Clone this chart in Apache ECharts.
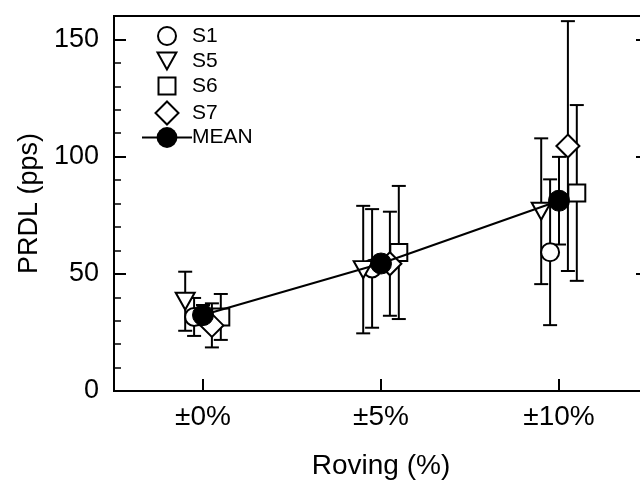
<!DOCTYPE html>
<html><head><meta charset="utf-8">
<script src="https://cdn.jsdelivr.net/npm/echarts@6/dist/echarts.min.js"></script>
<style>html,body{margin:0;padding:0;background:#fff}#c{width:640px;height:480px}</style>
</head><body><div id="c"></div>
<script>
const categories = ['±0%', '±5%', '±10%'];
const yTickValues = [0, 50, 100, 150];
const s1 = [31.6, 52.3, 59.2];
const s1Err = [8.1, 25.3, 31.1];
const s5 = [38.3, 51.8, 76.7];
const s5Err = [12.6, 27.2, 31.1];
const s6 = [31.6, 59.1, 84.5];
const s6Err = [9.8, 28.4, 37.5];
const s7 = [28.0, 54.3, 104.5];
const s7Err = [9.4, 22.2, 53.3];
const mean = [32.4, 54.4, 81.2];
const meanErr = [4.3, 3.3, 18.7];

const FONT = "'Liberation Sans', Arial, sans-serif";
const off = {S1: -0.05, S5: -0.1, S6: 0.1, S7: 0.05, MEAN: 0};
const LW = 2;
const DOWN_TRI = 'path://M0,0L20,0L10,18Z';

function pts(vals, o) { return vals.map((v, i) => [i + o, v]); }
function errs(vals, e, o) { return vals.map((v, i) => [i + o, v - e[i], v + e[i]]); }

function errRender(params, api) {
  const x = api.value(0), lo = api.value(1), hi = api.value(2);
  const a = api.coord([x, lo]), b = api.coord([x, hi]);
  const w = 7;
  const style = {stroke: '#000', lineWidth: LW, fill: null};
  return {type: 'group', children: [
    {type: 'line', shape: {x1: a[0], y1: a[1], x2: b[0], y2: b[1]}, style},
    {type: 'line', shape: {x1: a[0] - w, y1: a[1], x2: a[0] + w, y2: a[1]}, style},
    {type: 'line', shape: {x1: b[0] - w, y1: b[1], x2: b[0] + w, y2: b[1]}, style}
  ]};
}
function errSeries(name, vals, e, o) {
  return {type: 'custom', name: name + ' err', xAxisIndex: 1, yAxisIndex: 0, z: 1,
    renderItem: errRender, data: errs(vals, e, o), silent: true, clip: false};
}
const hollow = {color: '#fff', borderColor: '#000', borderWidth: LW, opacity: 1};
function scat(name, vals, o, symbol, size) {
  return {type: 'scatter', name, xAxisIndex: 1, yAxisIndex: 0, z: 2, symbol, symbolSize: size,
    itemStyle: hollow, data: pts(vals, o), silent: true};
}
const SYM_X = 166, TEXT_X = 191, LFS = 21;
function legScatter(name, cy, w, h, icon) {
  const left = SYM_X - w / 2;
  const item = {name: name};
  if (icon) item.icon = icon;
  return {
    data: [item], orient: 'vertical', left: left, top: cy - Math.max(h, LFS) / 2,
    itemWidth: w, itemHeight: h, selectedMode: false, padding: 0,
    itemStyle: {color: '#fff', borderColor: '#000', borderWidth: LW, opacity: 1},
    textStyle: {fontFamily: FONT, fontSize: LFS, color: '#000',
      padding: [0, 0, 0, TEXT_X - (left + w + 5)]}
  };
}
function legMean(name, cy, h) {
  return {
    data: [name], orient: 'vertical', left: 141, top: cy - Math.max(h, LFS) / 2,
    itemWidth: 50, itemHeight: h, selectedMode: false, padding: 0,
    textStyle: {fontFamily: FONT, fontSize: LFS, color: '#000',
      padding: [0, 0, 0, TEXT_X - (141 + 50 + 5)]}
  };
}

const chart = echarts.init(document.getElementById('c'), null, {renderer: 'canvas'});
const axisLine = {show: true, onZero: false, lineStyle: {color: '#000', width: 2}};
chart.setOption({
  animation: false,
  backgroundColor: '#fff',
  grid: {left: 114, top: 16, width: 534, height: 375, show: true, borderColor: '#000', borderWidth: 2,
         outerBoundsMode: 'none', containLabel: false},
  legend: [
    legScatter('S1', 36, 18, 18),
    legScatter('S5', 61, 19, 17, DOWN_TRI),
    legScatter('S6', 86, 17, 17),
    legScatter('S7', 112, 23, 23),
    legMean('MEAN', 140, 26)
  ],
  xAxis: [
    {type: 'category', data: categories, boundaryGap: true, position: 'bottom',
     axisLine, axisTick: {show: true, inside: true, alignWithLabel: true, length: 12, lineStyle: {color: '#000', width: 2}},
     axisLabel: {fontFamily: FONT, fontSize: 28, color: '#000', margin: 12},
     name: 'Roving (%)', nameLocation: 'middle', nameGap: 61,
     nameTextStyle: {fontFamily: FONT, fontSize: 28, color: '#000'}, splitLine: {show: false}},
    {type: 'value', min: -0.5, max: 2.5, show: false, axisLine: {onZero: false}, splitLine: {show: false}}
  ],
  yAxis: [
    {type: 'value', min: yTickValues[0], max: 160, interval: 50, position: 'left',
     axisLine, axisTick: {show: true, inside: true, length: 12, lineStyle: {color: '#000', width: 2}},
     axisLabel: {fontFamily: FONT, fontSize: 27, color: '#000', margin: 15, showMaxLabel: false,
       formatter: v => yTickValues.includes(v) ? String(v) : ''},
     splitLine: {show: false},
     name: 'PRDL (pps)', nameLocation: 'middle', nameGap: 67, nameRotate: 90,
     nameTextStyle: {fontFamily: FONT, fontSize: 27, color: '#000'}},
    {type: 'value', min: 0, max: 160, interval: 10, position: 'left',
     axisLine: {show: false, onZero: false}, axisTick: {show: true, inside: true, length: 7, lineStyle: {color: '#000', width: 1.5}},
     axisLabel: {show: false}, splitLine: {show: false}},
    {type: 'value', min: 0, max: 160, interval: 50, position: 'right',
     axisLine, axisTick: {show: true, inside: true, length: 12, lineStyle: {color: '#000', width: 2}},
     axisLabel: {show: false}, splitLine: {show: false}}
  ],
  series: [
    errSeries('S1', s1, s1Err, off.S1),
    errSeries('S5', s5, s5Err, off.S5),
    errSeries('S6', s6, s6Err, off.S6),
    errSeries('S7', s7, s7Err, off.S7),
    errSeries('MEAN', mean, meanErr, off.MEAN),
    scat('S1', s1, off.S1, 'circle', 18),
    scat('S5', s5, off.S5, DOWN_TRI, [19, 17]),
    scat('S6', s6, off.S6, 'rect', 17),
    scat('S7', s7, off.S7, 'diamond', 23),
    {type: 'line', name: 'MEAN', xAxisIndex: 1, yAxisIndex: 0, z: 3, symbol: 'circle', symbolSize: 21,
     itemStyle: {color: '#000', borderColor: '#000', opacity: 1}, lineStyle: {color: '#000', width: LW},
     data: pts(mean, off.MEAN), silent: true}
  ]
});
</script>
</body></html>
